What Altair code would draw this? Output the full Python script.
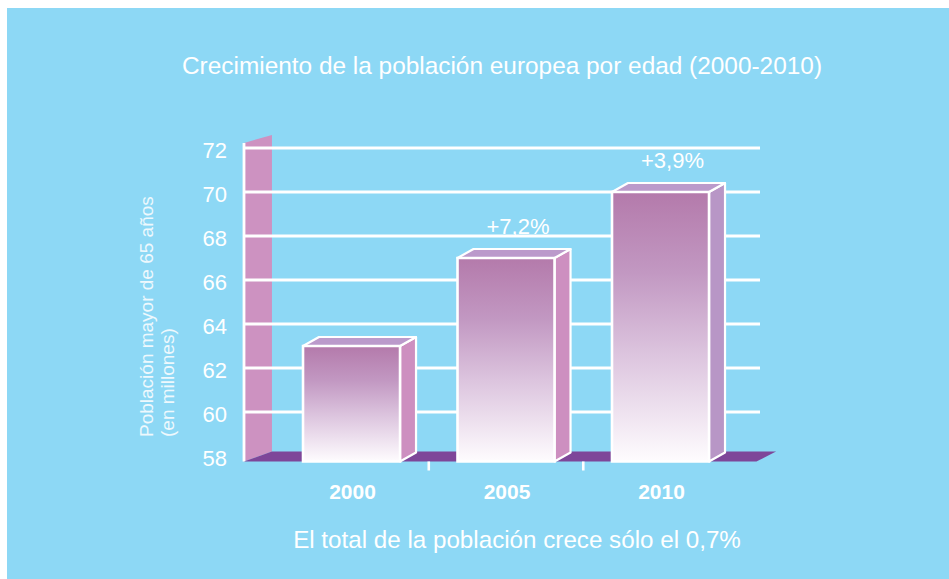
import altair as alt
import pandas as pd

# ---------------- data ----------------
years = ["2000", "2005", "2010"]
values = [63, 67, 70]
growth = ["", "+7,2%", "+3,9%"]
y_tick_values = [58, 60, 62, 64, 66, 68, 70, 72]
grid_values = [60, 62, 64, 66, 68, 70, 72]
between_ticks = [0.5, 1.5]

title_text = "Crecimiento de la población europea por edad (2000-2010)"
footer_text = "El total de la población crece sólo el 0,7%"
y_title = ["Población mayor de 65 años", "(en millones)"]

# ---------------- style ----------------
FONT = "Liberation Sans"
BG = "#8dd8f5"
WALL = "#cd92c1"
FLOOR = "#7e4699"
TOPFACE = "#bb9acb"
side_colors = ["#cd8fc0", "#cd8fc0", "#b896c6"]

X_MIN, X_MAX = -0.696, 2.644
Y_MIN, Y_MAX = 58, 72
BASE = 57.75          # floor front level
HW = 0.314            # half bar width (x units)
DX = 0.1036           # 3D depth (x units)
DY = 0.41             # 3D depth (y units)
WALL_DX = 0.181
FLOOR_DY = 0.45

xs = alt.Scale(domain=[X_MIN, X_MAX], nice=False, zero=False)
ys = alt.Scale(domain=[Y_MIN, Y_MAX], nice=False, zero=False)

n = len(years)
bars = pd.DataFrame({
    "i": list(range(n)),
    "year": years,
    "value": values,
    "growth": growth,
    "x0": [i - HW for i in range(n)],
    "x1": [i + HW for i in range(n)],
    "base": [BASE] * n,
})

side_rows, top_rows = [], []
for i, v in enumerate(values):
    side_rows.append({"bar": i, "x": i + HW, "y": BASE, "y2": v, "c": side_colors[i]})
    side_rows.append({"bar": i, "x": i + HW + DX, "y": BASE + DY, "y2": v + DY, "c": side_colors[i]})
    top_rows.append({"bar": i, "y": v, "x": i - HW, "x2": i + HW})
    top_rows.append({"bar": i, "y": v + DY, "x": i - HW + DX, "x2": i + HW + DX})
side_df = pd.DataFrame(side_rows)
top_df = pd.DataFrame(top_rows)

wall_df = pd.DataFrame({
    "x": [X_MIN, X_MIN + WALL_DX],
    "y": [BASE, BASE + FLOOR_DY],
    "y2": [Y_MAX + 0.23, Y_MAX + 0.59],
})
floor_df = pd.DataFrame({
    "y": [BASE, BASE + FLOOR_DY],
    "x": [X_MIN, X_MIN + WALL_DX],
    "x2": [2.621, 2.748],
})
grid_df = pd.DataFrame({"v": grid_values, "x": [X_MIN] * len(grid_values), "x2": [X_MAX] * len(grid_values)})
axis_line_df = pd.DataFrame({"x": [X_MIN], "y": [BASE], "y2": [Y_MAX + 0.23]})
ticks_df = pd.DataFrame({"x": between_ticks, "y": [BASE] * 2, "y2": [BASE - 0.41] * 2})
ylab_df = pd.DataFrame({"v": y_tick_values, "x": [X_MIN] * len(y_tick_values)})

one = pd.DataFrame({"a": [0]})

# ---------------- layers ----------------
background = alt.Chart(one).mark_rect(color=BG).encode(
    x=alt.value(-237), x2=alt.value(705), y=alt.value(-140), y2=alt.value(431)
)

title = alt.Chart(one).mark_text(
    text=title_text, font=FONT, fontSize=24.4, color="white", align="center", baseline="alphabetic"
).encode(x=alt.value(258), y=alt.value(-74))

footer = alt.Chart(one).mark_text(
    text=footer_text, font=FONT, fontSize=24.2, color="white", align="center", baseline="alphabetic"
).encode(x=alt.value(273), y=alt.value(400))

ytitle = alt.Chart(one).mark_text(
    text=y_title, font=FONT, fontSize=19, color="#eef8fd", align="left", baseline="alphabetic",
    angle=270, lineHeight=21,
).encode(x=alt.value(-91), y=alt.value(289))

wall = alt.Chart(wall_df).mark_area(color=WALL, clip=False).encode(
    x=alt.X("x:Q", scale=xs, axis=None),
    y=alt.Y("y:Q", scale=ys, axis=None),
    y2="y2:Q",
)

grid = alt.Chart(grid_df).mark_rule(color="white", strokeWidth=2.8).encode(
    x=alt.X("x:Q", scale=xs, axis=None), x2="x2:Q",
    y=alt.Y("v:Q", scale=ys, axis=None),
)

axis_line = alt.Chart(axis_line_df).mark_rule(color="white", strokeWidth=2.8).encode(
    x=alt.X("x:Q", scale=xs, axis=None),
    y=alt.Y("y:Q", scale=ys, axis=None), y2="y2:Q",
)

ylabels = alt.Chart(ylab_df).mark_text(
    font=FONT, fontSize=22, color="white", align="right", baseline="middle", dx=-17, dy=3
).encode(
    x=alt.X("x:Q", scale=xs, axis=None),
    y=alt.Y("v:Q", scale=ys, axis=None),
    text="v:N",
)

floor = alt.Chart(floor_df).mark_area(color=FLOOR, orient="horizontal", clip=False).encode(
    y=alt.Y("y:Q", scale=ys, axis=None),
    x=alt.X("x:Q", scale=xs, axis=None), x2="x2:Q",
)

ticks = alt.Chart(ticks_df).mark_rule(color="white", strokeWidth=2.6).encode(
    x=alt.X("x:Q", scale=xs, axis=None),
    y=alt.Y("y:Q", scale=ys, axis=None), y2="y2:Q",
)

sides = alt.Chart(side_df).mark_area(stroke="white", strokeWidth=2.2, strokeJoin="round").encode(
    x=alt.X("x:Q", scale=xs, axis=None),
    y=alt.Y("y:Q", scale=ys, axis=None), y2="y2:Q",
    fill=alt.Fill("c:N", scale=None),
    detail="bar:N",
)

tops = alt.Chart(top_df).mark_area(orient="horizontal", fill=TOPFACE, stroke="white",
                                   strokeWidth=2.2, strokeJoin="round").encode(
    y=alt.Y("y:Q", scale=ys, axis=None),
    x=alt.X("x:Q", scale=xs, axis=None), x2="x2:Q",
    detail="bar:N",
)

grad = alt.Gradient(
    gradient="linear",
    stops=[
        alt.GradientStop(offset=0, color="#b47aab"),
        alt.GradientStop(offset=0.3, color="#c298c2"),
        alt.GradientStop(offset=0.6, color="#dcc4de"),
        alt.GradientStop(offset=1, color="#fefcfe"),
    ],
    x1=0, x2=0, y1=0, y2=1,
)

front = alt.Chart(bars).mark_rect(fill=grad, stroke="white", strokeWidth=2.6).encode(
    x=alt.X("x0:Q", scale=xs, axis=None),
    x2="x1:Q",
    y=alt.Y("value:Q", scale=ys, axis=None),
    y2="base:Q",
)

year_labels = alt.Chart(bars).mark_text(
    font=FONT, fontSize=21, fontWeight="bold", color="white", align="center",
    baseline="alphabetic", dy=37.5, dx=1,
).encode(
    x=alt.X("i:Q", scale=xs, axis=None),
    y=alt.Y("base:Q", scale=ys, axis=None),
    text="year:N",
)

labels = alt.Chart(bars).transform_filter("datum.growth != ''").mark_text(
    font=FONT, fontSize=22, color="white", dx=12, dy=-24, baseline="alphabetic", align="center"
).encode(
    x=alt.X("i:Q", scale=xs, axis=None),
    y=alt.Y("value:Q", scale=ys, axis=None),
    text="growth:N",
)

chart = alt.layer(
    background, title, footer, ytitle, wall, grid, axis_line, ylabels, floor, ticks,
    sides, tops, front, year_labels, labels
).properties(
    width=516,
    height=308,
    autosize=alt.AutoSizeParams(type="none"),
    padding={"left": 244, "top": 148, "right": 189, "bottom": 123},
    background="white",
).configure_view(stroke=None)

chart.save("out.html", embed_options={"renderer": "svg", "actions": False})
